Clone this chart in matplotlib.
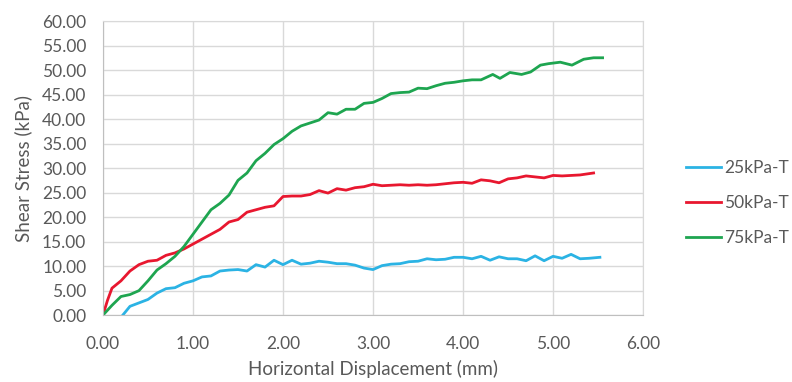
import numpy as np
import matplotlib
matplotlib.use("Agg")
from matplotlib import pyplot as plt

# Direct shear test curves: displacement (mm) vs shear stress (kPa)
x_25 = [0.22, 0.3, 0.4, 0.5, 0.6, 0.7, 0.8, 0.9, 1.0, 1.1, 1.2, 1.3, 1.4, 1.5,
        1.6, 1.7, 1.8, 1.9, 2.0, 2.1, 2.2, 2.3, 2.4, 2.5, 2.6, 2.7, 2.8, 2.9,
        3.0, 3.1, 3.2, 3.3, 3.4, 3.5, 3.6, 3.7, 3.8, 3.9, 4.0, 4.1, 4.2, 4.3,
        4.4, 4.5, 4.6, 4.7, 4.8, 4.9, 5.0, 5.1, 5.2, 5.3, 5.4, 5.52]
y_25 = [0.0, 1.8, 2.5, 3.2, 4.5, 5.4, 5.6, 6.5, 7.0, 7.8, 8.0, 9.0, 9.2, 9.3,
        9.0, 10.3, 9.8, 11.2, 10.3, 11.2, 10.4, 10.6, 11.0, 10.8, 10.5, 10.5, 10.2, 9.6,
        9.3, 10.1, 10.4, 10.5, 10.9, 11.0, 11.5, 11.3, 11.4, 11.8, 11.8, 11.5, 12.0, 11.2,
        11.9, 11.5, 11.5, 11.1, 12.1, 11.1, 12.0, 11.6, 12.4, 11.5, 11.6, 11.8]

x_50 = [0.0, 0.05, 0.1, 0.2, 0.3, 0.4, 0.5, 0.6, 0.7, 0.8, 0.9, 1.0, 1.1, 1.2,
        1.3, 1.4, 1.5, 1.6, 1.7, 1.8, 1.9, 2.0, 2.1, 2.2, 2.3, 2.4, 2.5, 2.6,
        2.7, 2.8, 2.9, 3.0, 3.1, 3.2, 3.3, 3.4, 3.5, 3.6, 3.7, 3.8, 3.9, 4.0,
        4.1, 4.2, 4.3, 4.4, 4.5, 4.6, 4.7, 4.8, 4.9, 5.0, 5.1, 5.2, 5.3, 5.45]
y_50 = [0.0, 3.0, 5.5, 7.0, 9.0, 10.3, 11.0, 11.2, 12.2, 12.7, 13.5, 14.5, 15.5, 16.5,
        17.5, 19.0, 19.5, 21.0, 21.5, 22.0, 22.3, 24.2, 24.3, 24.3, 24.6, 25.4, 24.9, 25.8,
        25.5, 26.0, 26.2, 26.7, 26.4, 26.5, 26.6, 26.5, 26.6, 26.5, 26.6, 26.8, 27.0, 27.1,
        26.9, 27.6, 27.4, 27.0, 27.8, 28.0, 28.4, 28.2, 28.0, 28.5, 28.4, 28.5, 28.6, 29.0]

x_75 = [0.0, 0.1, 0.2, 0.3, 0.4, 0.5, 0.6, 0.7, 0.8, 0.9, 1.0, 1.1, 1.2, 1.3,
        1.4, 1.5, 1.6, 1.7, 1.8, 1.9, 2.0, 2.1, 2.2, 2.3, 2.4, 2.5, 2.6, 2.7,
        2.8, 2.9, 3.0, 3.1, 3.2, 3.3, 3.4, 3.5, 3.6, 3.7, 3.8, 3.9, 4.0, 4.1,
        4.2, 4.33, 4.41, 4.52, 4.65, 4.75, 4.86, 4.95, 5.08, 5.21, 5.34, 5.45, 5.55]
y_75 = [0.0, 2.0, 3.8, 4.2, 5.0, 7.0, 9.2, 10.5, 12.0, 14.0, 16.5, 19.0, 21.5, 22.8,
        24.5, 27.5, 29.0, 31.5, 33.0, 34.8, 36.0, 37.5, 38.6, 39.2, 39.8, 41.3, 41.0, 42.0,
        42.0, 43.2, 43.4, 44.2, 45.2, 45.4, 45.5, 46.3, 46.2, 46.8, 47.3, 47.5, 47.8, 48.0,
        48.0, 49.1, 48.3, 49.5, 49.1, 49.6, 51.0, 51.3, 51.6, 51.0, 52.2, 52.5, 52.5]

labels = ["25kPa-T", "50kPa-T", "75kPa-T"]
colors = ["#2bb3e4", "#e8172f", "#1ea550"]

plt.rcParams['font.family'] = ['Lato', 'DejaVu Sans']
text_grey = "#595959"

fig = plt.figure(figsize=(7.92, 3.82), dpi=100)
ax = fig.add_axes([0.130, 0.175, 0.682, 0.770])

for xs, ys, lab, c in zip([x_25, x_50, x_75], [y_25, y_50, y_75], labels, colors):
    ax.plot(xs, ys, color=c, lw=2.0, label=lab, solid_joinstyle="round")

ax.set_xlim(0, 6)
ax.set_ylim(0, 60)
ax.set_xticks(np.arange(0, 6.01, 1))
ax.set_yticks(np.arange(0, 60.01, 5))
ax.set_xticklabels([f"{v:.2f}" for v in np.arange(0, 6.01, 1)])
ax.set_yticklabels([f"{v:.2f}" for v in np.arange(0, 60.01, 5)])
ax.tick_params(length=0, labelsize=12.5, labelcolor=text_grey)
ax.tick_params(axis="y", pad=12)
ax.tick_params(axis="x", pad=15)

ax.grid(True, color="#d9d9d9", lw=1.0)
ax.set_axisbelow(True)
for side in ["top", "right"]:
    ax.spines[side].set_color("#d9d9d9")
for side in ["left", "bottom"]:
    ax.spines[side].set_color("#bfbfbf")

ax.set_xlabel("Horizontal Displacement (mm)", fontsize=13.5, color=text_grey, labelpad=6)
ax.set_ylabel("Shear Stress (kPa)", fontsize=13.5, color=text_grey, labelpad=7)

fig.legend(loc="center left", bbox_to_anchor=(0.866, 0.469), frameon=False,
           borderpad=0, borderaxespad=0, fontsize=12.5, labelcolor=text_grey,
           handlelength=2.0, handletextpad=0.2, labelspacing=1.1)

fig.savefig("out.png", dpi=100)
